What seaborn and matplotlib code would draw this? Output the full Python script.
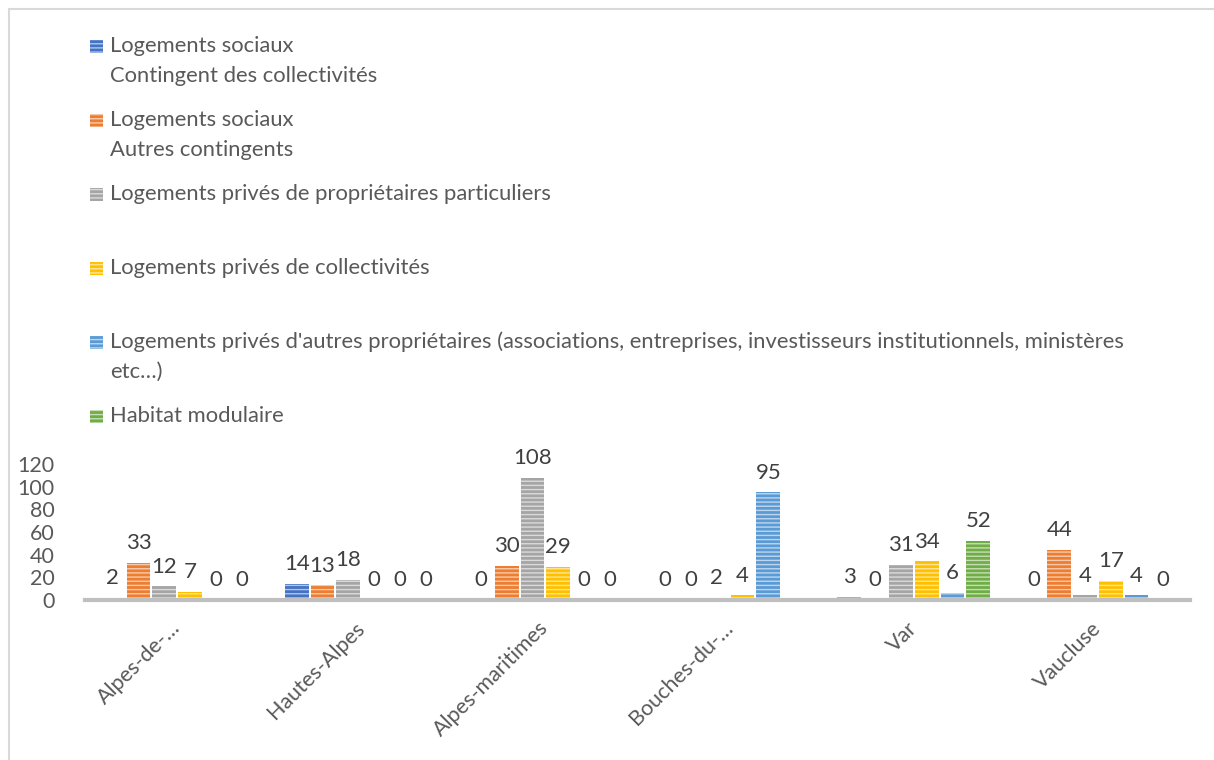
import numpy as np
import pandas as pd
import matplotlib
matplotlib.use("Agg")
import matplotlib.pyplot as plt
from matplotlib.patches import Rectangle
from matplotlib.lines import Line2D
import seaborn as sns

categories = ["Alpes-de-…", "Hautes-Alpes", "Alpes-maritimes", "Bouches-du-…", "Var", "Vaucluse"]
series_names = [
    "Logements sociaux\nContingent des collectivités",
    "Logements sociaux\nAutres contingents",
    "Logements privés de propriétaires particuliers",
    "Logements privés de collectivités",
    "Logements privés d'autres propriétaires (associations, entreprises, investisseurs institutionnels, ministères\netc…)",
    "Habitat modulaire",
]
soc_collectivites = [2, 14, 0, 0, 3, 0]
soc_autres = [33, 13, 30, 0, 0, 44]
prive_particuliers = [12, 18, 108, 2, 31, 4]
prive_collectivites = [7, 0, 29, 4, 34, 17]
prive_autres = [0, 0, 0, 95, 6, 4]
habitat_modulaire = [0, 0, 0, np.nan, 52, 0]
colors = ["#4472C4", "#ED7D31", "#A5A5A5", "#FFC000", "#5B9BD5", "#70AD47"]
y_ticks = [0, 20, 40, 60, 80, 100, 120]

series_values = [soc_collectivites, soc_autres, prive_particuliers,
                 prive_collectivites, prive_autres, habitat_modulaire]
rows = []
for name, vals in zip(series_names, series_values):
    for cat, v in zip(categories, vals):
        rows.append({"Département": cat, "Série": name, "Valeur": v})
df = pd.DataFrame(rows)

sns.set_theme(style="white")
FONT = ["Lato", "DejaVu Sans"]
plt.rcParams["font.family"] = FONT
plt.rcParams["hatch.linewidth"] = 1.0

W, H = 1214, 760
fig = plt.figure(figsize=(W / 100, H / 100), dpi=100)
ax = fig.add_axes([85 / W, 1 - 600 / H, (1190 - 85) / W, (600 - 464) / H])

sns.barplot(data=df.dropna(), x="Département", y="Valeur", hue="Série",
            order=categories, hue_order=series_names, palette=colors,
            width=0.84, gap=0.08, ax=ax, legend=False, errorbar=None,
            saturation=1)

for cont in ax.containers:
    for bar in cont:
        bar.set_hatch("----")
        bar.set_edgecolor((1, 1, 1, 0.6))
        bar.set_linewidth(0)
    ax.bar_label(cont, labels=[f"{b.get_height():g}" for b in cont],
                 padding=7, fontsize=16, color="#404040", clip_on=False)

ax.set_ylim(0, 120)
ax.set_xlim(-0.5, len(categories) - 0.5)
ax.set_yticks(y_ticks)
ax.set_ylabel("")
ax.set_xlabel("")
for s in ["top", "right", "left"]:
    ax.spines[s].set_visible(False)
ax.spines["bottom"].set_color("#BFBFBF")
ax.spines["bottom"].set_linewidth(3)
ax.tick_params(axis="y", length=0, pad=22, labelsize=15.5, labelcolor="#595959")
ax.tick_params(axis="x", length=0, pad=18, labelsize=15.5, labelcolor="#595959")
for lbl in ax.get_xticklabels():
    lbl.set_rotation(45)
    lbl.set_ha("right")
    lbl.set_rotation_mode("anchor")
    lbl.set_va("center")

# manual legend (Excel style: fixed spacing, handle aligned with first line)
leg_y = [46, 120, 194, 268, 342, 416]
for name, col, yy in zip(series_names, colors, leg_y):
    r = Rectangle((90 / W, 1 - (yy + 6.5) / H), 13 / W, 13 / H, transform=fig.transFigure,
                  facecolor=col, edgecolor=(1, 1, 1, 0.6), linewidth=0, hatch="----")
    fig.add_artist(r)
    for k, line in enumerate(name.split("\n")):
        fig.text(110 / W, 1 - (yy + 30 * k) / H, line, fontsize=15.8, color="#595959",
                 ha="left", va="center")

# chart border (top and left visible)
fig.add_artist(Line2D([8.5 / W, 1], [1 - 8.5 / H, 1 - 8.5 / H], transform=fig.transFigure,
                      color="#D9D9D9", linewidth=1.5))
fig.add_artist(Line2D([8.5 / W, 8.5 / W], [0, 1 - 8.5 / H], transform=fig.transFigure,
                      color="#D9D9D9", linewidth=1.5))

fig.savefig("out.png", dpi=100, facecolor="white")
